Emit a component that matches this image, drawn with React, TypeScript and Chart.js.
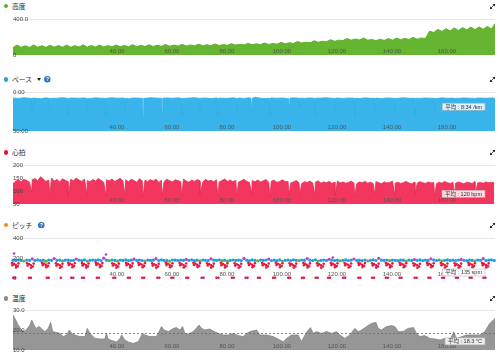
import React, { useEffect, useRef } from 'react';
import { Chart, registerables } from 'chart.js';

Chart.register(...registerables);
Chart.defaults.font.family = '"Liberation Sans", Arial, sans-serif';

// ---------- shared distance axis ----------
const distanceMin = 2.2;
const distanceMax = 177.5;
const distanceTicks = [40, 60, 80, 100, 120, 140, 160];

// ---------- 高度 (elevation) ----------
const elevStart = 2.2;
const elevStep = 1.5;
const elevValues = [
  82, 110, 85, 104, 84, 112, 86, 103, 85, 108, 86, 105,
  87, 110, 86, 104, 88, 113, 87, 106, 88, 110, 89, 104, 90,
  112, 91, 106, 92, 115, 93, 108, 94, 113, 95, 109, 96, 116,
  98, 110, 99, 118, 100, 112, 102, 120, 103, 114, 104, 122, 106,
  116, 108, 125, 110, 119, 112, 128, 113,
  124, 116, 132, 118, 128, 120, 140,
  125, 136, 128, 150, 132, 142, 135,
  158, 142, 152, 148, 170, 152, 165,
  160, 182, 165, 178, 168, 188, 165,
  172, 160, 175, 162, 182, 165, 188,
  170, 185, 172, 195, 175, 190,
  182, 265, 250, 285, 262, 292, 268, 300, 272, 305, 278, 310, 282, 312, 285, 318, 290, 355,
];
const elevTicks = [0, 400];
const elevTickLabels = ['0', '400.0'];

// ---------- ペース (pace, minutes per km) ----------
const paceStart = 2.2;
const paceStep = 2;
const paceValues = [
  7.6, 8.2, 7.4, 8.0, 7.8, 8.6, 7.5, 8.1, 7.9, 7.3, 8.4, 7.7, 8.0, 7.6, 8.3, 7.5, 7.9, 8.2, 7.4, 8.0,
  7.7, 8.5, 7.6, 7.9, 8.1, 7.4, 7.8, 8.3, 7.6, 8.0, 7.5, 8.2, 7.8, 7.3, 8.0, 7.7, 8.4, 7.6, 7.9, 8.1,
  7.5, 7.8, 8.2, 7.4, 6.8, 7.9, 8.3, 7.6, 8.0, 7.7, 8.5, 7.5, 7.9, 8.1, 7.6, 8.3, 7.8, 7.4, 8.0, 7.7,
  8.2, 7.6, 7.9, 8.4, 7.5, 8.0, 7.8, 8.3, 7.6, 7.9, 8.1, 7.4, 8.0, 7.7, 8.2, 7.6, 7.9, 8.3, 7.5, 8.0,
  7.8, 8.1, 7.6, 7.9, 8.4, 7.7, 8.0, 7.6, 8.2,
];
const paceSpikes = [
  [8.75, 8.0], [9.0, 22], [9.25, 7.9],
  [15.35, 8.0], [15.6, 28], [15.85, 7.9],
  [21.95, 8.0], [22.2, 30], [22.45, 7.9],
  [28.85, 8.0], [29.1, 24], [29.35, 7.9],
  [35.75, 8.0], [36.0, 30], [36.25, 7.9],
  [42.65, 8.0], [42.9, 26], [43.15, 7.9],
  [49.25, 8.0], [49.5, 31], [49.75, 7.9],
  [56.15, 8.0], [56.4, 27], [56.65, 7.9],
  [63.35, 8.0], [63.6, 30], [63.85, 7.9],
  [69.95, 8.0], [70.2, 25], [70.45, 7.9],
  [76.45, 8.0], [76.7, 29], [76.95, 7.9],
  [83.35, 8.0], [83.6, 23], [83.85, 7.9],
  [88.75, 8.0], [89.0, 28], [89.25, 7.9],
  [95.35, 8.0], [95.6, 30], [95.85, 7.9],
  [102.45, 8.0], [102.7, 24], [102.95, 7.9],
  [106.25, 8.0], [106.5, 20], [106.75, 7.9],
  [111.75, 8.0], [112.0, 29], [112.25, 7.9],
  [119.05, 8.0], [119.3, 26], [119.55, 7.9],
  [126.25, 8.0], [126.5, 30], [126.75, 7.9],
  [133.55, 8.0], [133.8, 27], [134.05, 7.9],
  [140.85, 8.0], [141.1, 25], [141.35, 7.9],
  [148.15, 8.0], [148.4, 30], [148.65, 7.9],
  [155.35, 8.0], [155.6, 28], [155.85, 7.9],
  [162.65, 8.0], [162.9, 24], [163.15, 7.9],
  [169.95, 8.0], [170.2, 27], [170.45, 7.9],
];
const paceTicks = [0, 50];
const paceTickLabels = ['0:00', '50:00'];
const paceAvg = 8.57;
const paceAvgText = '平均 : 8:34 /km';

// ---------- 心拍 (heart rate) ----------
const hrStart = 2.2;
const hrStep = 1;
const hrValues = [
  128, 138, 142, 136, 145, 140, 134, 143, 148, 139, 155, 146, 137, 142, 150, 138, 144, 135, 147, 141,
  136, 145, 139, 150, 142, 137, 146, 140, 135, 144, 138, 148, 141, 134, 143, 139, 146, 137, 142, 149,
  138, 143, 136, 145, 140, 134, 147, 139, 142, 136, 144, 138, 146, 133, 141, 137, 145, 139, 135, 143,
  140, 136, 146, 138, 134, 142, 137, 144, 139, 133, 145, 138, 141, 136, 143, 135, 140, 146, 137, 142,
  136, 141, 134, 139, 145, 137, 133, 140, 136, 142, 135, 139, 144, 134, 138, 141, 133, 137, 143, 136,
  137, 131, 135, 140, 132, 129, 136, 133, 138, 131, 134, 139, 130, 135, 132, 137, 129, 134, 138, 131,
  135, 130, 133, 138, 131, 128, 135, 132, 137, 130, 134, 129, 136, 132, 128, 135, 131, 133, 138, 130,
  134, 129, 132, 137, 131, 128, 134, 130, 136, 132, 129, 135, 131, 133, 128, 134, 130, 137, 132, 129,
  133, 130, 135, 131, 128, 134, 132, 129, 136, 131, 133, 130, 135, 132, 134, 131,
];
const hrDips = [
  [9.0, 95], [15.6, 82], [22.2, 78], [29.1, 85], [36.0, 80], [42.9, 84], [49.5, 78], [56.4, 83],
  [63.6, 80], [70.2, 86], [76.7, 79], [83.6, 84], [89.0, 88], [95.6, 80], [102.7, 85], [106.5, 90],
  [112.0, 82], [119.3, 84], [126.5, 80], [133.8, 86], [141.1, 82], [148.4, 85], [155.6, 80], [162.9, 87],
  [170.2, 83],
];
const hrTicks = [50, 100, 150, 200];
const hrTickLabels = ['50', '100', '150', '200'];
const hrAvg = 120;
const hrAvgText = '平均 : 120 bpm';

// ---------- ピッチ (cadence) ----------
const pitchStart = 2.2;
const pitchStep = 1;
const pitchMain = [
  178, 176, 180, 175, 170, 179, 177, 192, 176, 181, 174, 178, 168, 180, 177, 195, 176, 179, 172, 178,
  180, 175, 177, 190, 178, 174, 181, 169, 177, 179, 176, 182, 175, 198, 178, 173, 180, 177, 171, 179,
  176, 181, 174, 178, 188, 177, 180, 175, 170, 179, 176, 178, 193, 175, 181, 177, 174, 169, 180, 178,
  175, 179, 177, 186, 176, 182, 174, 178, 171, 180, 177, 175, 191, 179, 176, 181, 173, 178, 168, 177,
  180, 176, 179, 174, 196, 178, 175, 181, 177, 172, 179, 176, 180, 189, 175, 178, 174, 181, 170, 177,
  179, 175, 182, 177, 173, 180, 176, 194, 178, 175, 181, 169, 177, 179, 176, 187, 180, 174, 178, 172,
  177, 181, 175, 179, 190, 176, 178, 174, 180, 171, 177, 182, 175, 197, 178, 176, 180, 173, 179, 177,
  175, 180, 178, 168, 179, 176, 185, 177, 181, 174, 178, 176, 192, 179, 175, 180, 172, 177, 181, 176,
  178, 175, 180, 186, 177, 174, 179, 176, 171, 180, 177, 193, 175, 178, 181, 176,
];
const pitchHigh = [[2.6, 245], [36.0, 235], [118.5, 205]];
const pitchLow = [
  [1.8, 150], [2.5, 141], [3.2, 130], [3.9, 118], [3.3, 106], [2.0, 128], [4.2, 146],
  [7.3, 148], [8.0, 139], [8.7, 128], [9.4, 115], [8.8, 103], [7.5, 125], [9.7, 144],
  [12.8, 151], [13.5, 142], [14.2, 131], [14.9, 119], [14.3, 107], [13.0, 129], [15.2, 147],
  [17.8, 147], [18.5, 138], [19.2, 127], [19.9, 114], [19.3, 102], [18.0, 124], [20.2, 143],
  [22.3, 151], [23.0, 143], [23.7, 132], [24.4, 120], [23.8, 108], [22.5, 130], [24.7, 148],
  [27.3, 149], [28.0, 140], [28.7, 129], [29.4, 116], [28.8, 104], [27.5, 126], [29.7, 145],
  [32.3, 152], [33.0, 144], [33.7, 133], [34.4, 121], [33.8, 109], [32.5, 131], [34.7, 149],
  [38.3, 148], [39.0, 139], [39.7, 128], [40.4, 115], [39.8, 103], [38.5, 125], [40.7, 144],
  [43.3, 150], [44.0, 141], [44.7, 130], [45.4, 118], [44.8, 106], [43.5, 128], [45.7, 146],
  [47.8, 152], [48.5, 143], [49.2, 132], [49.9, 120], [49.3, 107], [48.0, 130], [50.2, 148],
  [52.8, 147], [53.5, 138], [54.2, 127], [54.9, 115], [54.3, 102], [53.0, 124], [55.2, 143],
  [57.8, 151], [58.5, 142], [59.2, 131], [59.9, 119], [59.3, 107], [58.0, 129], [60.2, 147],
  [62.8, 149], [63.5, 140], [64.2, 129], [64.9, 117], [64.3, 105], [63.0, 127], [65.2, 145],
  [67.8, 152], [68.5, 144], [69.2, 133], [69.9, 121], [69.3, 109], [68.0, 131], [70.2, 149],
  [72.8, 148], [73.5, 139], [74.2, 128], [74.9, 116], [74.3, 104], [73.0, 126], [75.2, 144],
  [77.8, 150], [78.5, 141], [79.2, 130], [79.9, 118], [79.3, 106], [78.0, 128], [80.2, 146],
  [82.8, 147], [83.5, 138], [84.2, 127], [84.9, 115], [84.3, 103], [83.0, 124], [85.2, 143],
  [87.8, 151], [88.5, 142], [89.2, 131], [89.9, 119], [89.3, 107], [88.0, 129], [90.2, 147],
  [92.8, 149], [93.5, 140], [94.2, 129], [94.9, 117], [94.3, 105], [93.0, 127], [95.2, 145],
  [97.8, 152], [98.5, 143], [99.2, 132], [99.9, 120], [99.3, 108], [98.0, 130], [100.2, 148],
  [102.8, 148], [103.5, 139], [104.2, 128], [104.9, 116], [104.3, 104], [103.0, 126], [105.2, 144],
  [107.8, 150], [108.5, 141], [109.2, 130], [109.9, 118], [109.3, 106], [108.0, 128], [110.2, 146],
  [112.8, 147], [113.5, 138], [114.2, 127], [114.9, 115], [114.3, 102], [113.0, 124], [115.2, 143],
  [117.8, 151], [118.5, 142], [119.2, 131], [119.9, 119], [119.3, 107], [118.0, 129], [120.2, 147],
  [122.8, 149], [123.5, 140], [124.2, 129], [124.9, 117], [124.3, 105], [123.0, 127], [125.2, 145],
  [127.8, 152], [128.5, 144], [129.2, 133], [129.9, 121], [129.3, 109], [128.0, 131], [130.2, 149],
  [132.8, 148], [133.5, 139], [134.2, 128], [134.9, 116], [134.3, 104], [133.0, 126], [135.2, 144],
  [137.8, 150], [138.5, 141], [139.2, 130], [139.9, 118], [139.3, 106], [138.0, 128], [140.2, 146],
  [142.8, 152], [143.5, 143], [144.2, 132], [144.9, 120], [144.3, 108], [143.0, 130], [145.2, 148],
  [147.8, 147], [148.5, 138], [149.2, 127], [149.9, 115], [149.3, 103], [148.0, 124], [150.2, 143],
  [152.8, 151], [153.5, 142], [154.2, 131], [154.9, 119], [154.3, 107], [153.0, 129], [155.2, 147],
  [157.8, 149], [158.5, 140], [159.2, 129], [159.9, 117], [159.3, 105], [158.0, 127], [160.2, 145],
  [162.8, 148], [163.5, 139], [164.2, 128], [164.9, 116], [164.3, 104], [163.0, 126], [165.2, 144],
  [167.8, 152], [168.5, 143], [169.2, 132], [169.9, 120], [169.3, 108], [168.0, 130], [170.2, 148],
  [172.8, 150], [173.5, 141], [174.2, 130], [174.9, 118], [174.3, 106], [173.0, 128], [175.2, 146],
];
const pitchZero = [
  [2.3, 2], [3.0, 2], [8.0, 2], [8.7, 2], [14.5, 2], [15.2, 2], [19.6, 2], [23.4, 2], [24.1, 2],
  [27.3, 2], [28.0, 2], [32.7, 2], [33.4, 2], [38.7, 2], [39.4, 2], [44.0, 2], [44.7, 2], [49.2, 2],
  [49.9, 2], [54.7, 2], [55.4, 2], [59.8, 2], [60.5, 2], [65.2, 2], [65.9, 2], [70.8, 2], [71.5, 2],
  [76.2, 2], [76.9, 2], [81.8, 2], [82.5, 2], [86.8, 2], [87.5, 2], [91.3, 2], [92.0, 2], [96.8, 2],
  [97.5, 2], [102.3, 2], [103.0, 2], [107.3, 2], [108.0, 2], [112.3, 2], [113.0, 2], [116.8, 2],
  [117.5, 2], [122.3, 2], [123.0, 2], [127.8, 2], [128.5, 2], [132.8, 2], [133.5, 2], [137.8, 2],
  [138.5, 2], [142.8, 2], [143.5, 2], [148.3, 2], [149.0, 2], [153.3, 2], [154.0, 2], [158.3, 2],
  [159.0, 2], [163.3, 2], [164.0, 2], [168.3, 2], [169.0, 2], [173.3, 2], [174.0, 2],
];
const pitchTicks = [0, 200, 400];
const pitchTickLabels = ['0', '200', '400'];
const pitchAvg = 135;
const pitchAvgText = '平均 : 135 spm';

// ---------- 温度 (temperature) ----------
const tempPoints = [
  [2.2, 27.5], [2.9, 25.8], [4.1, 22.5], [5.3, 20], [6.5, 19.2], [8.4, 22.5], [9.0, 25], [9.6, 23.3],
  [10.5, 20.8], [11.8, 21.7], [12.6, 20.5], [13.8, 19.2], [15.0, 20.8], [15.9, 23.8], [16.6, 19.2],
  [18.1, 18.8], [19.3, 18.3], [20.5, 16.7], [21.7, 17.5], [22.7, 20], [23.5, 18.3], [24.7, 17.5],
  [26.5, 16.7], [28.4, 16.7], [29.2, 20.8], [30.2, 18.3], [32.0, 15.8], [33.8, 15.5], [35.6, 15.5],
  [36.2, 18.3], [36.8, 15.5], [38.1, 14.7], [39.9, 14], [41.1, 15.8], [41.7, 17.5], [42.9, 15],
  [44.1, 14], [45.9, 13.3], [47.8, 14.2], [49.3, 18.3], [50.2, 17.5], [52.0, 16.7], [54.4, 16.7],
  [56.2, 21.7], [57.1, 20], [58.7, 19.2], [60.5, 20.8], [61.7, 21.2], [62.9, 20], [63.9, 21.7],
  [64.7, 18.3], [65.9, 18], [67.8, 19.2], [69.9, 22.5], [70.8, 20.8], [72.0, 20], [73.8, 20.5],
  [75.0, 19.5], [76.9, 18.3], [78.7, 17.5], [80.5, 17.5], [82.3, 18.3], [84.1, 17.2], [85.9, 16.7],
  [87.2, 18.3], [88.4, 19.2], [90.8, 20], [92.0, 17.5], [94.4, 17.5], [96.8, 16.7], [99.3, 15],
  [100.5, 14], [101.7, 15.8], [103.5, 17.5], [105.9, 17.5], [107.1, 14.2], [108.4, 17.5], [109.6, 20],
  [110.4, 21.2], [111.4, 18.3], [112.6, 19.2], [114.4, 18.3], [116.2, 19.2], [118.1, 18.3],
  [119.9, 19.2], [121.1, 17.5], [122.9, 15.8], [124.7, 17.5], [126.5, 20.8], [127.8, 19.2], [129.0, 20],
  [130.8, 21.7], [132.6, 23.3], [134.2, 23.8], [135.0, 20.8], [136.2, 20], [138.1, 21.7], [139.9, 22.2],
  [141.1, 21.7], [142.3, 19.2], [144.1, 19.2], [145.9, 20.8], [147.8, 21.2], [149.0, 18.3],
  [150.2, 16.7], [152.0, 17.2], [153.8, 15.8], [155.6, 15.5], [157.5, 15], [159.3, 15.8], [161.1, 15],
  [162.5, 19], [163.5, 15.8], [167.2, 17.5], [169.6, 17.5], [172.0, 17.5], [173.8, 19.2], [175.6, 23.3],
  [177.5, 25.8],
];
const tempTicks = [10, 20, 30];
const tempTickLabels = ['10.0', '20.0', '30.0'];
const tempAvg = 18.3;
const tempAvgText = '平均 : 18.3 °C';

// ---------- helpers ----------
type P = { x: number; y: number };
const fromGrid = (start: number, step: number, vals: number[]): P[] =>
  vals.map((y, i) => ({ x: start + i * step, y }));
const fromPairs = (pairs: number[][]): P[] => pairs.map(([x, y]) => ({ x, y }));
const merged = (a: P[], b: P[]) => [...a, ...b].sort((p, q) => p.x - q.x);

const zoneColor = (v: number) =>
  v > 183 ? '#b441d2' : v >= 174 ? '#1f9fe3' : v >= 164 ? '#5bb531' : v >= 153 ? '#f28a1c' : '#e6183f';

const MARGIN = 6;

function avgPlugin(avg: number, text: string, dashed: boolean) {
  return {
    id: 'avgBox',
    afterDraw(chart: any) {
      const { ctx, chartArea, scales } = chart;
      const y = scales.y.getPixelForValue(avg);
      ctx.save();
      if (dashed) {
        ctx.setLineDash([2, 2]);
        ctx.strokeStyle = '#6a6a6a';
        ctx.lineWidth = 0.8;
        ctx.beginPath();
        ctx.moveTo(chartArea.left, y);
        ctx.lineTo(chartArea.right, y);
        ctx.stroke();
        ctx.setLineDash([]);
      }
      ctx.font = '5.5px "Liberation Sans", "Noto Sans CJK JP", sans-serif';
      const w = ctx.measureText(text).width + 6;
      const h = 7;
      const x1 = chartArea.right - 10 - w;
      const y1 = y + 8 - h / 2;
      ctx.fillStyle = 'rgba(255,255,255,0.82)';
      ctx.fillRect(x1, y1, w, h);
      ctx.strokeStyle = '#b5b5b5';
      ctx.lineWidth = 0.6;
      ctx.strokeRect(x1, y1, w, h);
      ctx.fillStyle = '#333';
      ctx.textBaseline = 'middle';
      ctx.textAlign = 'left';
      ctx.fillText(text, x1 + 3, y1 + h / 2 + 0.3);
      ctx.restore();
    },
  };
}

function makeScales(yMin: number, yMax: number, yTicks: number[], yLabels: string[], reverse: boolean) {
  const gridValue = reverse ? yMin : yMax;
  return {
    x: {
      type: 'linear',
      min: distanceMin,
      max: distanceMax,
      grid: { display: false, drawTicks: false },
      border: { display: false },
      afterBuildTicks: (s: any) => {
        s.ticks = distanceTicks.map((v) => ({ value: v }));
      },
      afterFit: (s: any) => {
        s.height = 0;
      },
      ticks: {
        mirror: true,
        padding: 0,
        autoSkip: false,
        maxRotation: 0,
        minRotation: 0,
        z: 1,
        color: '#555',
        font: { size: 6 },
        callback: (v: any) => Number(v).toFixed(2),
      },
    },
    y: {
      type: 'linear',
      min: yMin,
      max: yMax,
      reverse,
      grid: {
        drawTicks: false,
        lineWidth: 1,
        color: (c: any) => (c.tick && c.tick.value === gridValue ? '#e6e6e6' : 'rgba(0,0,0,0)'),
      },
      border: { display: false },
      afterBuildTicks: (s: any) => {
        s.ticks = yTicks.map((v) => ({ value: v }));
      },
      afterFit: (s: any) => {
        s.width = 0;
      },
      ticks: {
        mirror: true,
        padding: 0,
        z: 1,
        color: '#444',
        font: { size: 6 },
        callback: (v: any) => {
          const i = yTicks.indexOf(Number(v));
          return i >= 0 ? yLabels[i] : '';
        },
      },
    },
  };
}

function baseOptions(scales: any) {
  return {
    responsive: false,
    maintainAspectRatio: false,
    animation: false,
    devicePixelRatio: 1,
    events: [],
    layout: { padding: { left: 13, right: 5, top: MARGIN, bottom: MARGIN } },
    plugins: { legend: { display: false }, tooltip: { enabled: false }, title: { display: false } },
    scales,
  };
}

const panels = [
  {
    top: 19,
    bottom: 55,
    config: () => ({
      type: 'line',
      data: {
        datasets: [
          {
            data: fromGrid(elevStart, elevStep, elevValues),
            borderColor: '#5fb02b',
            backgroundColor: '#66b531',
            borderWidth: 1,
            pointRadius: 0,
            tension: 0,
            fill: { value: 0 },
          },
        ],
      },
      options: baseOptions(makeScales(0, 400, elevTicks, elevTickLabels, false)),
    }),
  },
  {
    top: 92,
    bottom: 131,
    config: () => ({
      type: 'line',
      data: {
        datasets: [
          {
            data: merged(fromGrid(paceStart, paceStep, paceValues), fromPairs(paceSpikes)),
            borderColor: '#31aee6',
            backgroundColor: '#38b4ea',
            borderWidth: 0.8,
            pointRadius: 0,
            tension: 0,
            fill: { value: 50 },
          },
        ],
      },
      options: baseOptions(makeScales(0, 50, paceTicks, paceTickLabels, true)),
      plugins: [avgPlugin(paceAvg, paceAvgText, false)],
    }),
  },
  {
    top: 165,
    bottom: 204,
    config: () => ({
      type: 'line',
      data: {
        datasets: [
          {
            data: merged(fromGrid(hrStart, hrStep, hrValues), fromPairs(hrDips)),
            borderColor: '#e92a55',
            backgroundColor: '#f2365e',
            borderWidth: 0.8,
            pointRadius: 0,
            tension: 0,
            fill: { value: 50 },
          },
        ],
      },
      options: baseOptions(makeScales(50, 200, hrTicks, hrTickLabels, false)),
      plugins: [avgPlugin(hrAvg, hrAvgText, false)],
    }),
  },
  {
    top: 238,
    bottom: 278,
    config: () => {
      const dot = (data: P[], r: number) => ({
        data,
        showLine: false,
        pointRadius: r,
        pointBorderWidth: 0,
        clip: 4,
        pointBackgroundColor: (c: any) => zoneColor(c.raw ? c.raw.y : 0),
        backgroundColor: (c: any) => zoneColor(c.raw ? c.raw.y : 0),
      });
      return {
        type: 'scatter',
        data: {
          datasets: [
            dot(fromPairs(pitchZero), 1.3),
            dot(fromPairs(pitchLow), 1.3),
            dot(fromGrid(pitchStart, pitchStep, pitchMain), 1.6),
            dot(fromPairs(pitchHigh), 1.3),
          ],
        },
        options: baseOptions(makeScales(0, 400, pitchTicks, pitchTickLabels, false)),
        plugins: [avgPlugin(pitchAvg, pitchAvgText, false)],
      };
    },
  },
  {
    top: 310,
    bottom: 350,
    config: () => ({
      type: 'line',
      data: {
        datasets: [
          {
            data: fromPairs(tempPoints),
            borderColor: '#858585',
            backgroundColor: '#969696',
            borderWidth: 0.8,
            pointRadius: 0,
            tension: 0,
            fill: { value: 10 },
          },
        ],
      },
      options: baseOptions(makeScales(10, 30, tempTicks, tempTickLabels, false)),
      plugins: [avgPlugin(tempAvg, tempAvgText, true)],
    }),
  },
];

function ChartPanel({ top, bottom, config }: { top: number; bottom: number; config: () => any }) {
  const ref = useRef<HTMLCanvasElement>(null);
  const h = bottom - top + MARGIN * 2;
  useEffect(() => {
    const chart = new Chart(ref.current as HTMLCanvasElement, config());
    return () => chart.destroy();
  }, []);
  return (
    <canvas
      ref={ref}
      width={500}
      height={h}
      style={{ position: 'absolute', left: 0, top: top - MARGIN, width: 500, height: h }}
    />
  );
}

function Title({ y, color, text, arrow, help }: { y: number; color: string; text: string; arrow?: number; help?: number }) {
  return (
    <>
      <div
        style={{
          position: 'absolute',
          left: 3.5,
          top: y - 2.3,
          width: 4.6,
          height: 4.6,
          borderRadius: '50%',
          background: color,
        }}
      />
      <div
        style={{
          position: 'absolute',
          left: 12,
          top: y - 5,
          height: 10,
          lineHeight: '10px',
          fontSize: 6.8,
          color: '#2b2b2b',
          fontFamily: '"Noto Sans CJK JP", sans-serif',
          whiteSpace: 'nowrap',
        }}
      >
        {text}
      </div>
      {arrow !== undefined && (
        <svg style={{ position: 'absolute', left: arrow - 2, top: y - 1.5 }} width={4} height={3}>
          <polygon points="0,0 4,0 2,3" fill="#222" />
        </svg>
      )}
      {help !== undefined && (
        <svg style={{ position: 'absolute', left: help - 3.3, top: y - 3.3 }} width={6.6} height={6.6}>
          <circle cx={3.3} cy={3.3} r={3.2} fill="#2474c9" />
          <text x={3.3} y={5.4} fontSize={5.2} fontWeight="bold" fill="#fff" textAnchor="middle" fontFamily="Liberation Sans">
            ?
          </text>
        </svg>
      )}
      <svg style={{ position: 'absolute', left: 489, top: y - 3.5 }} width={7} height={7}>
        <line x1={1.5} y1={5.5} x2={5.5} y2={1.5} stroke="#222" strokeWidth={0.8} />
        <polygon points="3.4,1 6,1 6,3.6" fill="#222" />
        <polygon points="1,3.4 1,6 3.6,6" fill="#222" />
      </svg>
    </>
  );
}

export default function App() {
  return (
    <div style={{ position: 'absolute', left: 0, top: 0, width: 500, height: 356, background: '#fff', overflow: 'hidden' }}>
      {panels.map((p, i) => (
        <ChartPanel key={i} top={p.top} bottom={p.bottom} config={p.config} />
      ))}
      <Title y={6} color="#5cb12c" text="高度" />
      <Title y={79.3} color="#27a7e2" text="ペース" arrow={38.5} help={47.7} />
      <Title y={152.3} color="#e4153f" text="心拍" />
      <Title y={225} color="#f08a1c" text="ピッチ" help={41.7} />
      <Title y={298.3} color="#8a8a8a" text="温度" />
    </div>
  );
}
